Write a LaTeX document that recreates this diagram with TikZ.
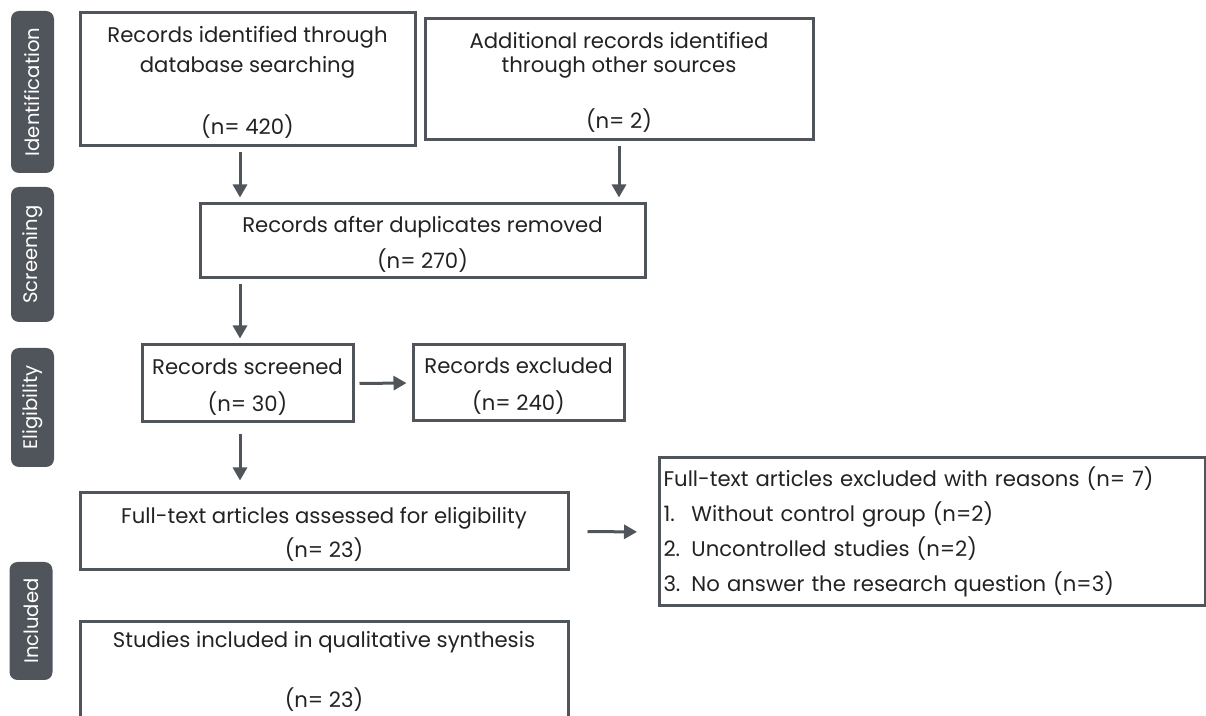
\documentclass[tikz,border=0pt]{standalone}
\usepackage{fontspec}
\setmainfont{Poppins}
\usetikzlibrary{arrows.meta}
\definecolor{boxgrey}{HTML}{50555B}
\definecolor{inkgrey}{HTML}{222222}
\begin{document}
\begin{tikzpicture}[x=0.5pt,y=-0.5pt,
  stagebox/.style={draw=boxgrey, line width=1.5pt, rectangle, align=center, text=inkgrey,
    inner sep=2pt, font=\fontsize{10.6}{15}\selectfont},
  phase/.style={fill=boxgrey, rounded corners=4pt, rotate=90, text=white, inner sep=0pt,
    minimum height=21.5pt, font=\fontsize{9.8}{11}\selectfont},
  flow/.style={-{Triangle[length=6.5pt,width=7pt]}, line width=1.5pt, draw=boxgrey,
    shorten <=2.5pt, shorten >=2.5pt}]

\clip (0,0) rectangle (1206,716);

\coordinate (spine) at (240,0);

\node[phase, minimum width=81pt] (ident) at (32.5,92) {Identification};
\node[phase, minimum width=67.5pt] (screen) at (32.5,254.5) {Screening};
\node[phase, minimum width=59.5pt] (elig) at (32.5,407.5) {Eligibility};
\node[phase, minimum width=59pt] (incl) at (31,621) {Included};

\node[stagebox, minimum width=167.5pt, minimum height=66.5pt] (dbrec) at (247.5,79.5)
  {\rule{0pt}{11pt}Records identified through\\database searching\\[16pt](n= 420)};

\node[stagebox, minimum width=194pt, minimum height=60.5pt] (otherrec) at (619,79.5)
  {\rule{0pt}{11pt}Additional records identified\\[-3pt]through other sources\\[13pt](n= 2)};

\node[stagebox, minimum width=222.5pt, minimum height=37pt] (dedup) at (422.5,241)
  {\rule{0pt}{11pt}Records after duplicates removed\\[3pt](n= 270)};

\node[stagebox, minimum width=105.5pt, minimum height=38.5pt] (screened) at (247.5,383.5)
  {\rule{0pt}{11pt}Records screened\\[3.5pt](n= 30)};

\node[stagebox, minimum width=105.5pt, minimum height=38pt] (excl) at (518.5,383)
  {\rule{0pt}{11pt}Records excluded\\[3.5pt](n= 240)};

\node[stagebox, minimum width=244pt, minimum height=38.5pt] (fulltext) at (324,531.5)
  {\rule{0pt}{11pt}Full-text articles assessed for eligibility\\[2pt](n= 23)};

\node[stagebox, anchor=west, align=left, text width=269pt, minimum height=74pt] (reasons) at (658,532)
  {\rule{0pt}{10pt}Full-text articles excluded with reasons (n= 7)\\[2.5pt]
   \makebox[14pt][l]{1.}Without control group (n=2)\\[2.5pt]
   \makebox[14pt][l]{2.}Uncontrolled studies (n=2)\\[2.5pt]
   \makebox[14pt][l]{3.}No answer the research question (n=3)};

\node[stagebox, anchor=north, minimum width=244pt, inner ysep=5pt] (included) at (324,620)
  {Studies included in qualitative synthesis\\[15pt](n= 23)\rule[-14pt]{0pt}{0pt}};

\draw[flow] (dbrec.south -| spine) -- (dedup.north -| spine);
\draw[flow] (otherrec.south) -- (dedup.north -| otherrec.south);
\draw[flow] (dedup.south -| spine) -- (screened.north -| spine);
\draw[flow] (screened.east) -- (excl.west);
\draw[flow, shorten <=5.5pt, shorten >=5.5pt] (screened.south -| spine) -- (fulltext.north -| spine);
\draw[flow, shorten <=9pt, shorten >=10.5pt] (fulltext.east) -- (reasons.west);

\end{tikzpicture}
\end{document}
